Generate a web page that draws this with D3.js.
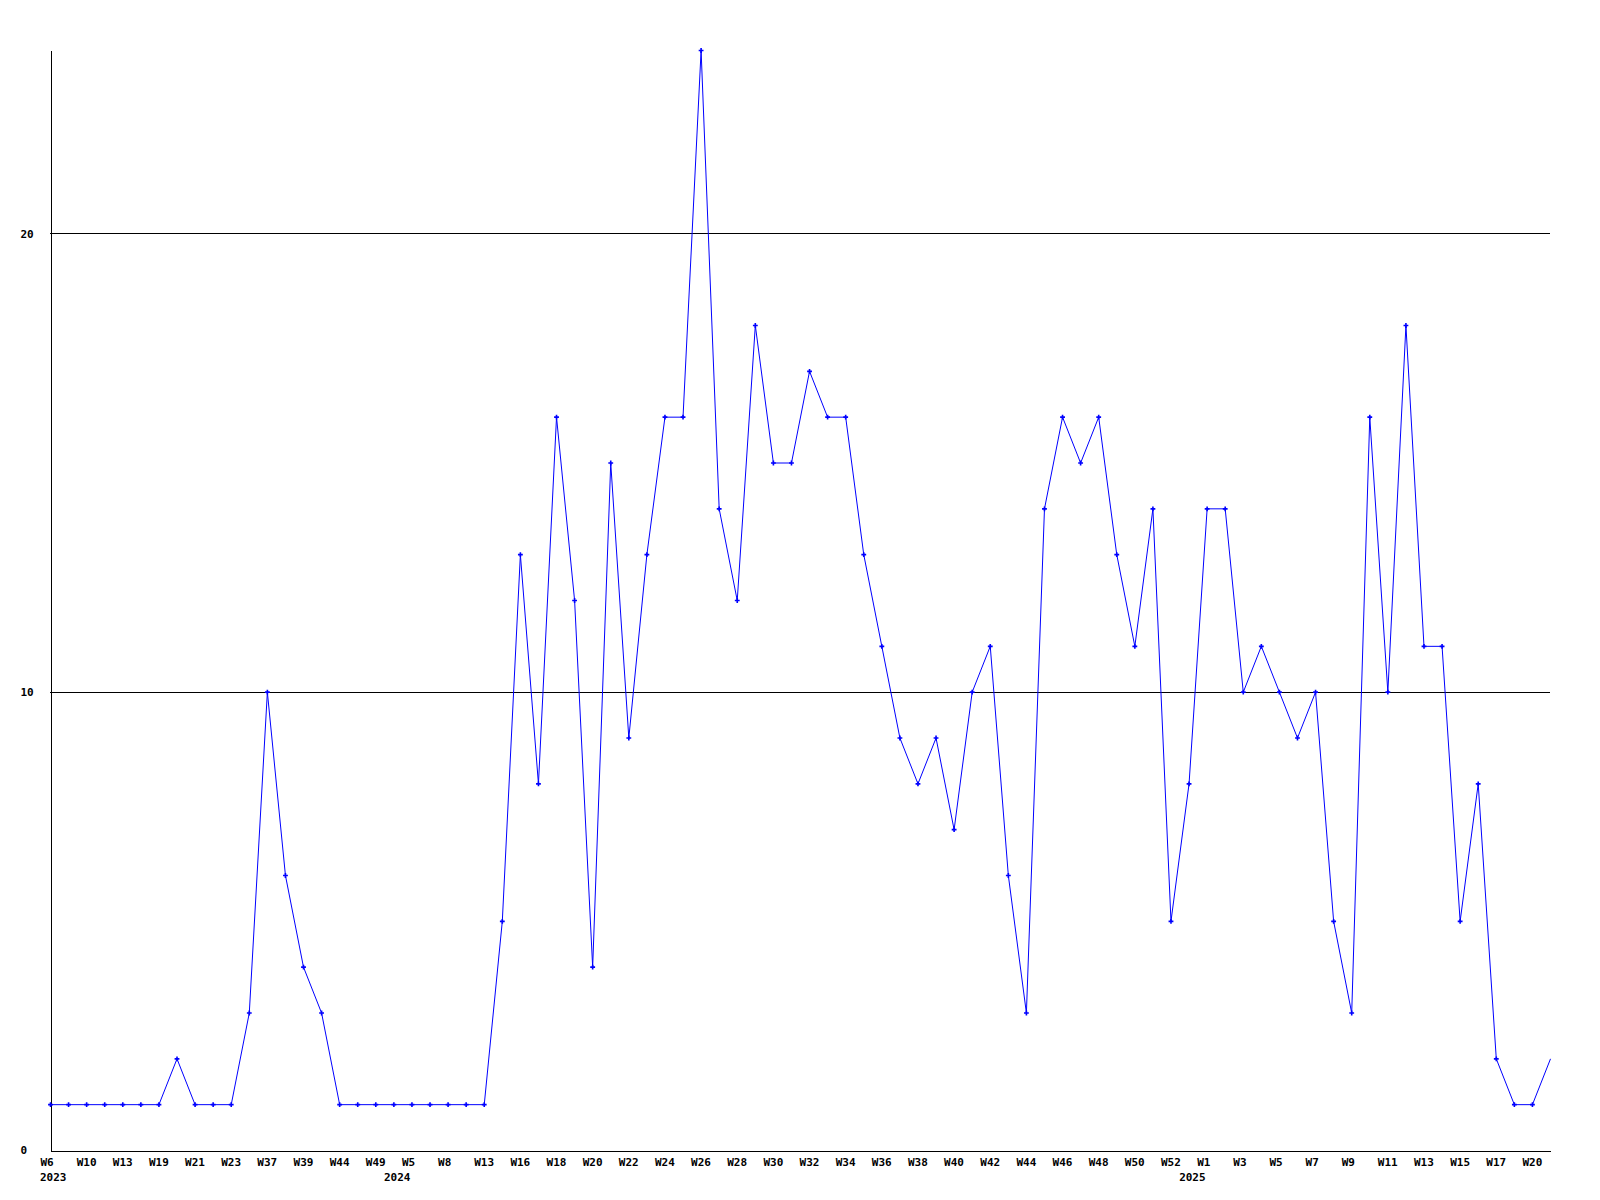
<!DOCTYPE html>
<html>
<head>
<meta charset="utf-8">
<script src="https://cdn.jsdelivr.net/npm/d3@7"></script>
<style>
  html, body { margin: 0; padding: 0; background: #ffffff; }
  svg { display: block; }
  text { font-family: "DejaVu Sans Mono", "Liberation Mono", monospace; font-weight: bold; font-size: 11px; fill: #000; }
</style>
</head>
<body>
<svg id="chart" width="1600" height="1200"></svg>
<script>
// ---- data ----
const weeks = [
  "2023-W6","2023-W8","2023-W10","2023-W11","2023-W13","2023-W16","2023-W19","2023-W20",
  "2023-W21","2023-W22","2023-W23","2023-W35","2023-W37","2023-W38","2023-W39","2023-W41",
  "2023-W44","2023-W47","2023-W49","2023-W51",
  "2024-W5","2024-W7","2024-W8","2024-W11","2024-W13","2024-W15","2024-W16","2024-W17",
  "2024-W18","2024-W19","2024-W20","2024-W21","2024-W22","2024-W23","2024-W24","2024-W25",
  "2024-W26","2024-W27","2024-W28","2024-W29","2024-W30","2024-W31","2024-W32","2024-W33",
  "2024-W34","2024-W35","2024-W36","2024-W37","2024-W38","2024-W39","2024-W40","2024-W41",
  "2024-W42","2024-W43","2024-W44","2024-W45","2024-W46","2024-W47","2024-W48","2024-W49",
  "2024-W50","2024-W51","2024-W52","2024-W53",
  "2025-W1","2025-W2","2025-W3","2025-W4","2025-W5","2025-W6","2025-W7","2025-W8",
  "2025-W9","2025-W10","2025-W11","2025-W12","2025-W13","2025-W14","2025-W15","2025-W16",
  "2025-W17","2025-W19","2025-W20","2025-W21"
];
const values = [
  1,1,1,1,1,1,1,2,1,1,1,3,10,6,4,3,1,1,1,1,
  1,1,1,1,1,5,13,8,16,12,4,15,9,13,16,16,24,14,12,18,15,15,17,16,16,13,11,9,8,9,7,10,11,6,3,14,16,15,16,13,11,14,5,8,
  14,14,10,11,10,9,10,5,3,16,10,18,11,11,5,8,2,1,1,2
];
const yTicks = [0, 10, 20];
const gridValues = [10, 20];
const yearStarts = ["2023-W6", "2024-W5", "2025-W1"];

// ---- chart ----
const svg = d3.select("#chart");
const mLeft = 50, mRight = 1550, mTop = 50, mBottom = 1150;

const x = d3.scalePoint().domain(weeks).range([mLeft, mRight]);
const y = d3.scaleLinear().domain([0, 24]).range([mBottom, mTop]);

// grid lines
svg.append("g").selectAll("line").data(gridValues).join("line")
  .attr("x1", mLeft).attr("x2", mRight)
  .attr("y1", d => y(d) + 0.5).attr("y2", d => y(d) + 0.5)
  .attr("stroke", "#000").attr("stroke-width", 1)
  .attr("shape-rendering", "crispEdges");

// x axis
const tickWeeks = weeks.filter((d, i) => i % 2 === 0);
const xAxis = d3.axisBottom(x).tickValues(tickWeeks).tickSize(0).tickSizeOuter(0)
  .tickFormat(d => d.split("-")[1]);
const gx = svg.append("g").attr("transform", `translate(0,${mBottom + 0.5})`).call(xAxis);
gx.attr("font-family", null).attr("font-size", null);
gx.select(".domain").attr("stroke", "#000").attr("shape-rendering", "crispEdges");
gx.selectAll(".tick text")
  .attr("text-anchor", "start").attr("x", -10).attr("y", 8).attr("dy", "0.71em");

// year labels
svg.append("g").selectAll("text").data(yearStarts).join("text")
  .attr("x", (d, i) => i === 0 ? x(d) - 10 : x(d) - 1)
  .attr("y", mBottom + 23)
  .attr("dy", "0.71em")
  .attr("text-anchor", (d, i) => i === 0 ? "start" : "end")
  .text(d => d.split("-")[0]);

// y axis
const yAxis = d3.axisLeft(y).tickValues(yTicks).tickSize(0).tickSizeOuter(0).tickFormat(d3.format("d"));
const gy = svg.append("g").attr("transform", `translate(${mLeft + 0.5},0)`).call(yAxis);
gy.attr("font-family", null).attr("font-size", null);
gy.select(".domain").attr("stroke", "#000").attr("shape-rendering", "crispEdges");
gy.selectAll(".tick text")
  .attr("text-anchor", "start").attr("x", 20 - mLeft).attr("dy", "0.36em");

// line
const data = weeks.map((w, i) => ({ w, v: values[i] }));
svg.append("path")
  .datum(data)
  .attr("fill", "none")
  .attr("stroke", "#0000ff")
  .attr("stroke-width", 1)
  .attr("d", d3.line().x(d => x(d.w) + 0.5).y(d => y(d.v) + 0.5));

// markers
const cross = d3.symbol().type(d3.symbolCross).size(13);
svg.append("g").selectAll("path").data(data.slice(0, -1)).join("path")
  .attr("transform", d => `translate(${x(d.w) + 0.5},${y(d.v) + 0.5})`)
  .attr("d", cross)
  .attr("fill", "#0000ff");
</script>
</body>
</html>
